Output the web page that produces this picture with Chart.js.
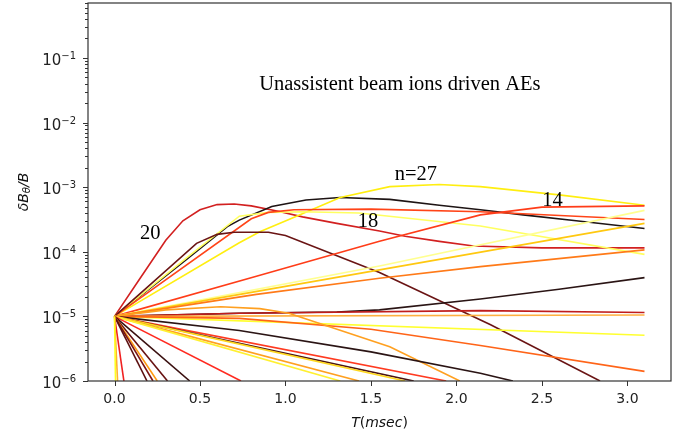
<!DOCTYPE html>
<html><head><meta charset="utf-8">
<script src="https://cdn.jsdelivr.net/npm/chart.js@4/dist/chart.umd.min.js"></script>
<style>html,body{margin:0;padding:0;background:#fff}canvas{display:block}</style>
</head><body>
<canvas id="c" width="687" height="437"></canvas>
<script>
// ---- tick labels ----
const xTickValues = [0, 0.5, 1.0, 1.5, 2.0, 2.5, 3.0];
const yTickValues = [1e-6, 1e-5, 1e-4, 1e-3, 1e-2, 1e-1];

// ---- series: time (msec) and deltaB_theta/B ----
const t_n20 = [0, 0.15, 0.3, 0.4, 0.5, 0.6, 0.7, 0.8, 0.95, 1.1, 1.3, 1.55, 1.7, 1.9, 2.1, 2.5, 3.1];
const v_n20 = [1e-5, 3.9e-5, 1.51e-4, 3.02e-4, 4.47e-4, 5.37e-4, 5.5e-4, 5.13e-4, 4.27e-4, 3.47e-4, 2.75e-4, 2.09e-4, 1.74e-4, 1.45e-4, 1.23e-4, 1.15e-4, 1.15e-4];
const t_blackPeak = [0, 0.42, 0.66, 0.73, 0.92, 1.12, 1.32, 1.61, 1.9, 2.14, 2.39, 2.7, 3.1];
const v_blackPeak = [1e-5, 7.59e-5, 2.45e-4, 3.09e-4, 5.01e-4, 6.31e-4, 6.92e-4, 6.46e-4, 5.25e-4, 4.47e-4, 3.72e-4, 3.02e-4, 2.29e-4];
const t_n27 = [0, 0.73, 0.85, 1.02, 1.32, 1.61, 1.9, 2.14, 2.6, 3.1];
const v_n27 = [1e-5, 1.38e-4, 2.04e-4, 3.16e-4, 6.92e-4, 1.02e-3, 1.10e-3, 1.02e-3, 7.59e-4, 5.25e-4];
const t_paleArc = [0, 0.42, 0.73, 0.9, 1.1, 1.43, 2.14, 3.1];
const v_paleArc = [1e-5, 7.94e-5, 3.55e-4, 4.07e-4, 4.17e-4, 3.98e-4, 2.51e-4, 9.12e-5];
const t_n18 = [0, 0.8, 0.9, 1.05, 1.5, 2.14, 3.1];
const v_n18 = [1e-5, 3.24e-4, 4.07e-4, 4.47e-4, 4.57e-4, 4.17e-4, 3.16e-4];
const t_maroonPeak = [0, 0.48, 0.6, 0.7, 0.9, 1.0, 1.55, 2.2, 2.84];
const v_maroonPeak = [1e-5, 1.35e-4, 1.86e-4, 2.0e-4, 2.0e-4, 1.78e-4, 4.79e-5, 7.41e-6, 1e-6];
const t_n14 = [0, 0.83, 1.55, 2.14, 2.5, 3.1];
const v_n14 = [1e-5, 4.17e-5, 1.45e-4, 3.72e-4, 4.90e-4, 5.13e-4];
const t_paleRise = [0, 1.55, 3.1];
const v_paleRise = [1e-5, 6.03e-5, 4.37e-4];
const t_goldRise = [0, 3.1];
const v_goldRise = [1e-5, 2.75e-4];
const t_orangeRise = [0, 0.83, 1.55, 2.14, 3.1];
const v_orangeRise = [1e-5, 2.19e-5, 3.89e-5, 5.89e-5, 1.07e-4];
const t_blackSlow = [0, 0.73, 1.3, 1.55, 2.14, 2.6, 3.1];
const v_blackSlow = [1e-5, 1.12e-5, 1.17e-5, 1.26e-5, 1.86e-5, 2.63e-5, 3.98e-5];
const t_redFlat = [0, 0.73, 2.14, 3.1];
const v_redFlat = [1e-5, 1.12e-5, 1.23e-5, 1.15e-5];
const t_orangeFlat = [0, 3.1];
const v_orangeFlat = [1e-5, 1.05e-5];
const t_yellowFlat = [0, 3.1];
const v_yellowFlat = [1e-5, 5.1e-6];
const t_orangeRedFall = [0, 0.73, 1.5, 2.14, 3.1];
const v_orangeRedFall = [1e-5, 9.33e-6, 6.31e-6, 3.55e-6, 1.41e-6];
const t_orangeHump = [0, 0.3, 0.62, 0.85, 1.02, 1.61, 2.02];
const v_orangeHump = [1e-5, 1.26e-5, 1.41e-5, 1.32e-5, 1.12e-5, 3.39e-6, 1e-6];
const t_blackFall = [0, 0.73, 1.5, 2.14, 2.33];
const v_blackFall = [1e-5, 6.03e-6, 2.82e-6, 1.32e-6, 1e-6];
// straight decays: time at which each one reaches the 1e-6 floor
const t_decayYellow = [0, 0.006];
const t_decayLtOrange = [0, 0.018];
const t_decayRed1 = [0, 0.055];
const t_decayMaroon1 = [0, 0.19];
const t_decayMaroon2 = [0, 0.225];
const t_decayOrange1 = [0, 0.25];
const t_decayMaroon3 = [0, 0.31];
const t_decayDark = [0, 0.44];
const t_decayRed2 = [0, 0.74];
const t_decayYellow2 = [0, 1.32];
const t_decayOrange2 = [0, 1.43];
const t_decayGold = [0, 1.70];
const t_decayDark2 = [0, 1.75];
const t_decayRed3 = [0, 1.94];
const v_decay = [1e-5, 1e-6];

// ---- annotations (text, time, value) ----
const annTitle = ['Unassistent beam ions driven AEs', 1.669, 3.8e-2];
const annN27 = ['n=27', 1.763, 1.55e-3];
const annN18 = ['18', 1.483, 2.9e-4];
const annN14 = ['14', 2.562, 6.12e-4];
const annN20 = ['20', 0.209, 1.89e-4];

const series = [
  [t_decayYellow, v_decay, '#ffff20'],
  [t_decayLtOrange, v_decay, '#ffb030'],
  [t_decayRed1, v_decay, '#f02020'],
  [t_decayMaroon1, v_decay, '#5c1010'],
  [t_decayMaroon2, v_decay, '#7a1414'],
  [t_decayOrange1, v_decay, '#ff9a10'],
  [t_decayMaroon3, v_decay, '#681212'],
  [t_decayDark, v_decay, '#3a1010'],
  [t_decayRed2, v_decay, '#ff2a20'],
  [t_decayYellow2, v_decay, '#fff030'],
  [t_decayOrange2, v_decay, '#ffa020'],
  [t_decayGold, v_decay, '#ffd820'],
  [t_decayDark2, v_decay, '#4a1414'],
  [t_decayRed3, v_decay, '#ff3a20'],
  [t_blackFall, v_blackFall, '#2a1414'],
  [t_orangeHump, v_orangeHump, '#ffa020'],
  [t_orangeRedFall, v_orangeRedFall, '#ff6418'],
  [t_yellowFlat, v_yellowFlat, '#ffff30'],
  [t_orangeFlat, v_orangeFlat, '#ffb040'],
  [t_redFlat, v_redFlat, '#c01c1c'],
  [t_blackSlow, v_blackSlow, '#2a1414'],
  [t_orangeRise, v_orangeRise, '#ff7a18'],
  [t_goldRise, v_goldRise, '#ffc810'],
  [t_paleRise, v_paleRise, '#ffff90'],
  [t_n14, v_n14, '#ff3c18'],
  [t_maroonPeak, v_maroonPeak, '#6a1414'],
  [t_n18, v_n18, '#ff4418'],
  [t_paleArc, v_paleArc, '#ffff60'],
  [t_n27, v_n27, '#ffee10'],
  [t_blackPeak, v_blackPeak, '#1e1414'],
  [t_n20, v_n20, '#d22020']
];

const datasets = series.map(([ts, vs, col]) => ({
  data: ts.map((t, i) => ({x: t, y: vs[i]})),
  borderColor: col,
  borderWidth: 1.6,
  pointRadius: 0,
  tension: 0,
  fill: false,
  clip: 0
}));

const decor = {
  id: 'decor',
  afterDraw(chart) {
    const {ctx, chartArea: a, scales: {x, y}} = chart;
    ctx.save();
    ctx.strokeStyle = '#333';
    ctx.lineWidth = 1;
    ctx.beginPath();
    xTickValues.forEach(v => {
      const px = Math.round(x.getPixelForValue(v)) + 0.5;
      ctx.moveTo(px, a.bottom); ctx.lineTo(px, a.bottom + 5);
    });
    for (let e = -6; e <= 0; e++) {
      for (let m = 1; m <= 9; m++) {
        const v = m * Math.pow(10, e);
        if (v < y.min * 0.999 || v > y.max) continue;
        const py = Math.round(y.getPixelForValue(v)) + 0.5;
        const len = m === 1 ? 5 : 3;
        ctx.moveTo(a.left - len, py); ctx.lineTo(a.left, py);
      }
    }
    ctx.stroke();
    ctx.lineWidth = 1.2;
    ctx.strokeRect(a.left, a.top, a.right - a.left, a.bottom - a.top);

    // y tick labels: 10 with a raised exponent
    ctx.fillStyle = '#222';
    ctx.textBaseline = 'alphabetic';
    ctx.textAlign = 'left';
    yTickValues.forEach(v => {
      const py = y.getPixelForValue(v);
      const ex = '\u2212' + String(-Math.round(Math.log10(v)));
      ctx.font = '10px "DejaVu Sans"';
      const we = ctx.measureText(ex).width;
      ctx.font = '15px "DejaVu Sans"';
      const wb = ctx.measureText('10').width;
      const right = a.left - 12;
      ctx.fillText('10', right - we - wb, py + 7);
      ctx.font = '10px "DejaVu Sans"';
      ctx.fillText(ex, right - we, py + 1);
    });

    // annotations
    ctx.fillStyle = '#000';
    ctx.textAlign = 'center';
    ctx.textBaseline = 'middle';
    ctx.font = '20.5px "Liberation Serif"';
    [annTitle, annN27, annN18, annN14, annN20].forEach(([txt, t, v]) => {
      ctx.fillText(txt, x.getPixelForValue(t), y.getPixelForValue(v));
    });

    // axis titles
    const ital = 'italic 14px "DejaVu Sans"', up = '14px "DejaVu Sans"';
    const drawParts = (parts, cx, cy) => {
      let w = 0;
      parts.forEach(p => { ctx.font = p[1]; w += ctx.measureText(p[0]).width; });
      let px = cx - w / 2;
      ctx.textAlign = 'left';
      parts.forEach(p => { ctx.font = p[1]; ctx.fillText(p[0], px, cy + (p[2] || 0)); px += ctx.measureText(p[0]).width; });
    };
    ctx.fillStyle = '#111';
    drawParts([['T', ital], ['(', up], ['msec', ital], [')', up]], (a.left + a.right) / 2, 423);
    ctx.save();
    ctx.translate(24, (a.top + a.bottom) / 2);
    ctx.rotate(-Math.PI / 2);
    drawParts([['\u03B4B', ital], ['\u03B8', 'italic 10px "DejaVu Sans"', 3], ['/B', ital]], 0, 0);
    ctx.restore();
    ctx.restore();
  }
};

new Chart(document.getElementById('c'), {
  type: 'line',
  data: { datasets },
  options: {
    responsive: false,
    animation: false,
    devicePixelRatio: 1,
    layout: { padding: { top: 3, right: 16, left: 0, bottom: 0 } },
    plugins: { legend: { display: false }, tooltip: { enabled: false } },
    scales: {
      x: {
        type: 'linear', min: -0.155, max: 3.255,
        grid: { display: false, drawTicks: false },
        border: { display: false },
        afterBuildTicks: s => { s.ticks = xTickValues.map(v => ({value: v})); },
        afterFit: s => { s.height = 56; s.paddingLeft = 0; s.paddingRight = 0; },
        ticks: { callback: v => Number(v).toFixed(1), color: '#222', font: { family: 'DejaVu Sans', size: 14 }, padding: 10, maxRotation: 0, autoSkip: false }
      },
      y: {
        type: 'logarithmic', min: 1e-6, max: 0.708,
        grid: { display: false, drawTicks: false },
        border: { display: false },
        afterBuildTicks: s => { s.ticks = yTickValues.map(v => ({value: v})); },
        afterFit: s => { s.width = 88; s.paddingTop = 0; s.paddingBottom = 0; },
        ticks: { display: false }
      }
    }
  },
  plugins: [decor]
});
</script>
</body></html>
